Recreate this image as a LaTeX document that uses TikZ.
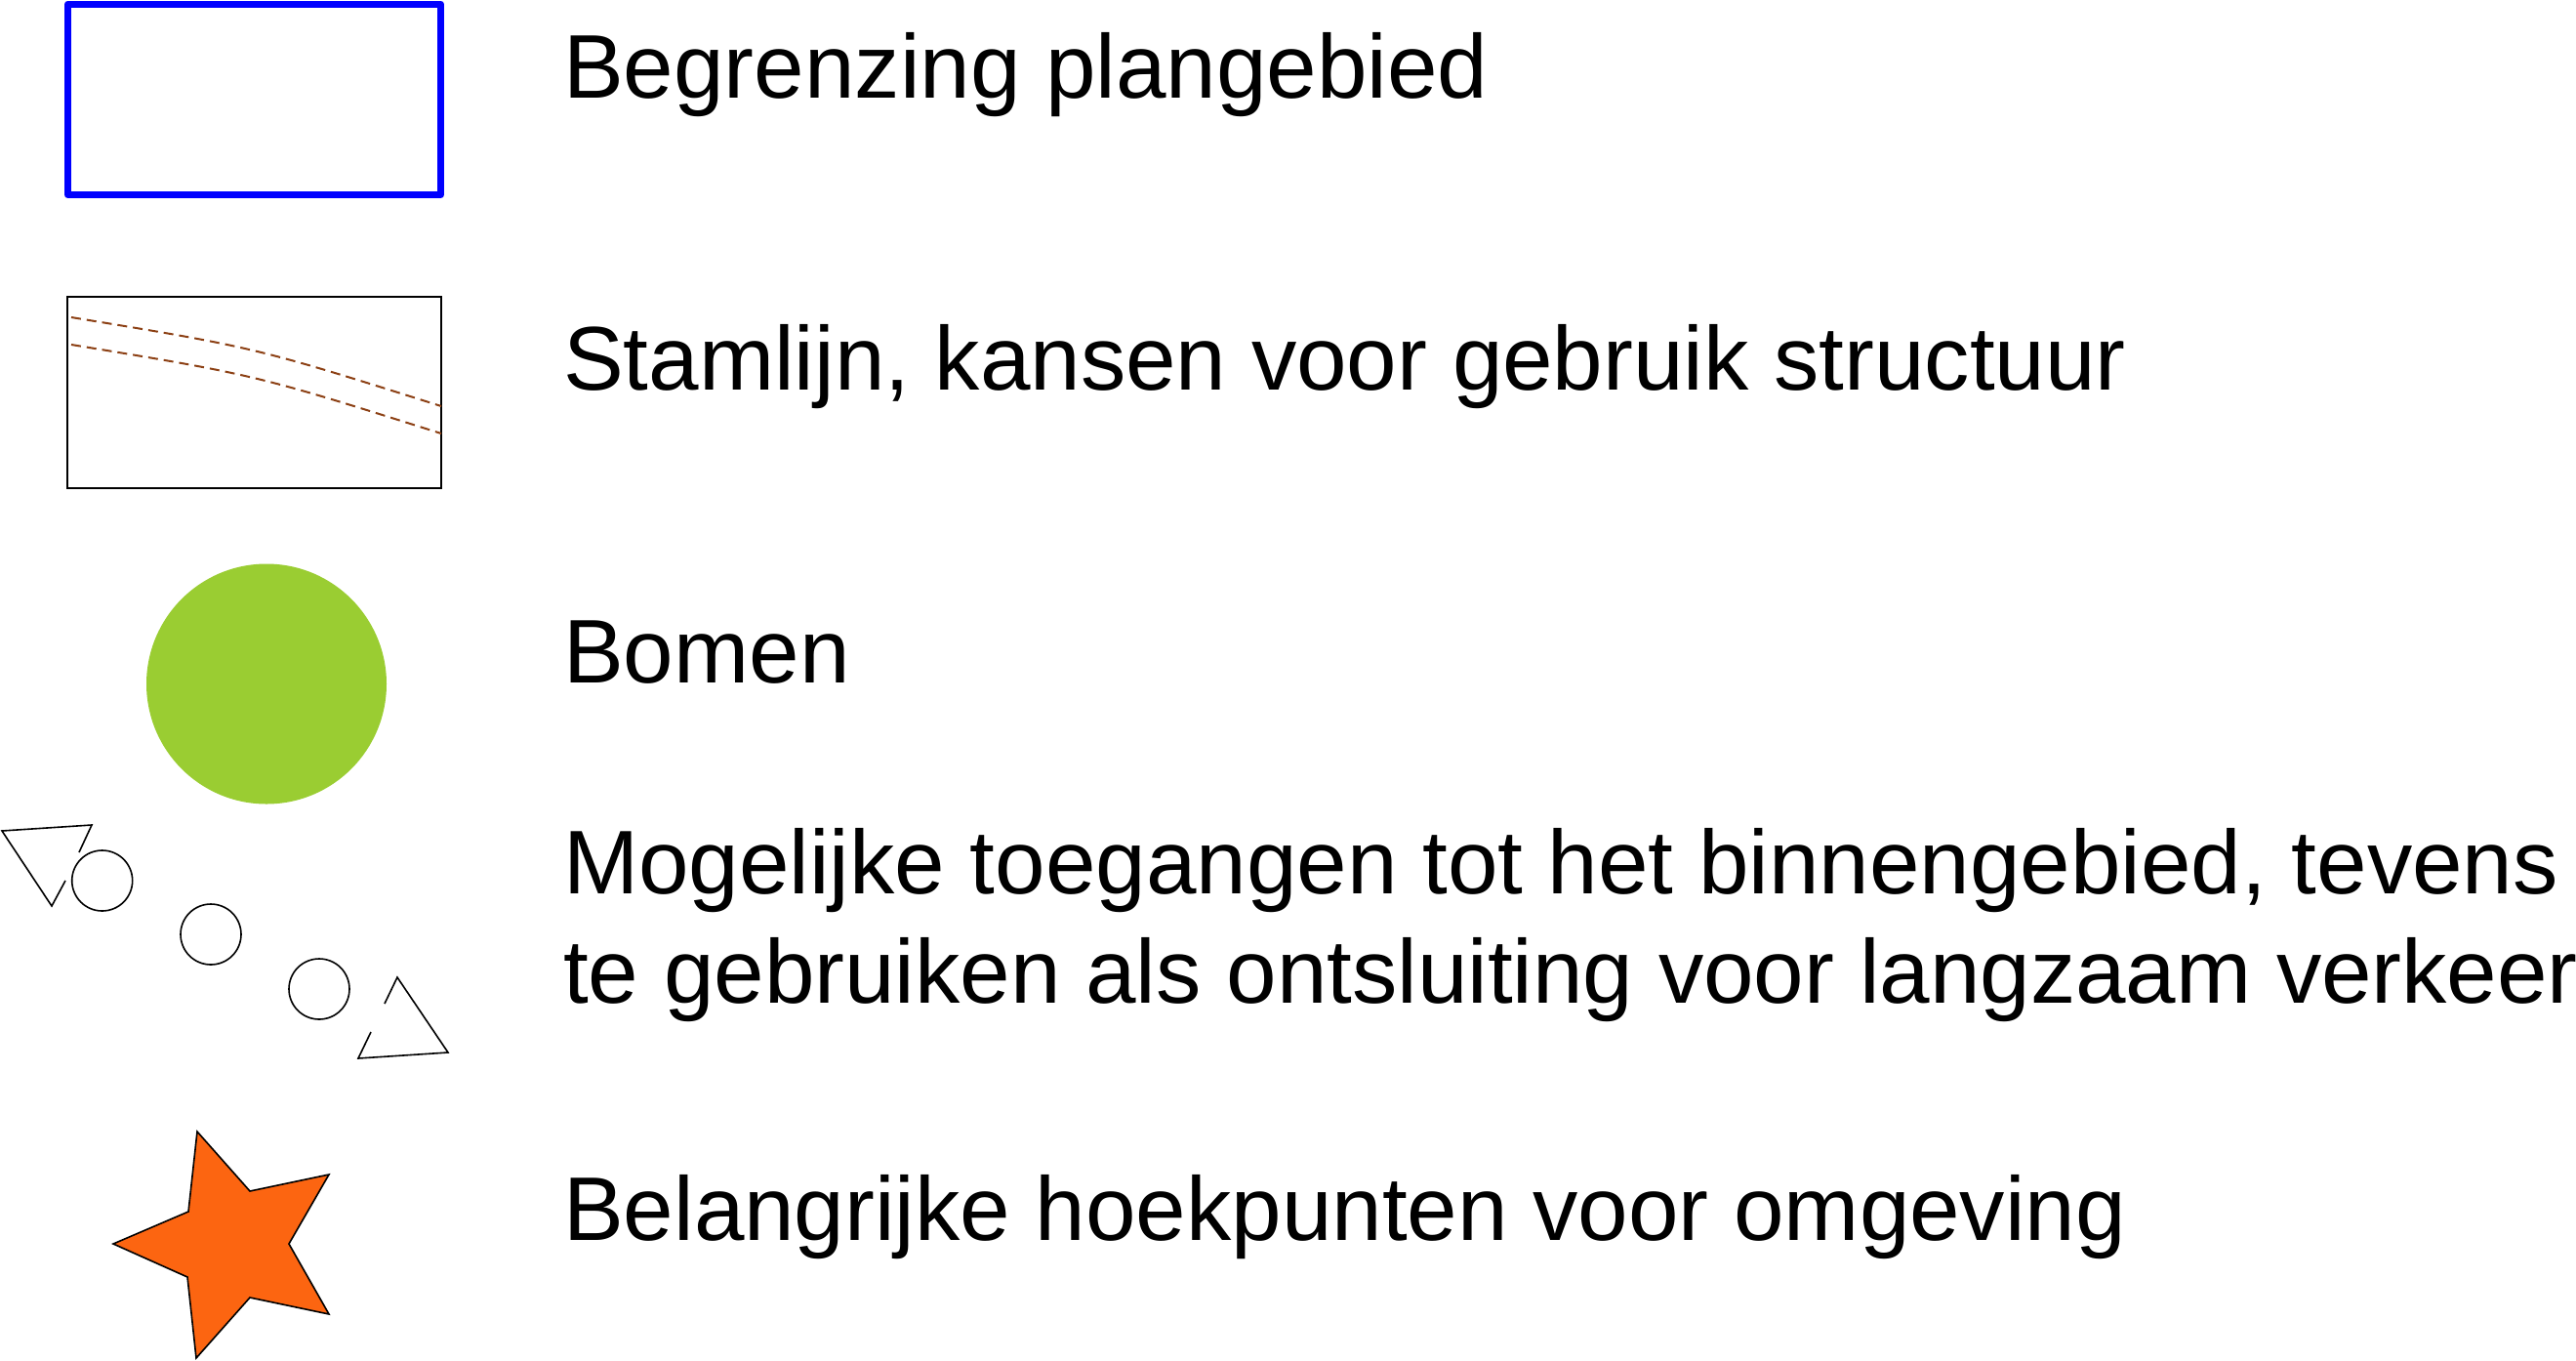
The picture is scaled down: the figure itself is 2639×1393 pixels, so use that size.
\documentclass[tikz,border=0pt]{standalone}
\usepackage{fontspec}
\setmainfont{Liberation Sans}
\definecolor{planblue}{RGB}{0,0,255}
\definecolor{stambrown}{RGB}{140,64,20}
\definecolor{treegreen}{RGB}{154,205,50}
\definecolor{starorange}{RGB}{252,101,17}
\tikzset{
  legendtext/.style={anchor=base west, inner sep=0pt, align=left, font=\fontsize{92.6}{112}\selectfont},
  thinline/.style={draw=black, line width=1.6pt},
  stamline/.style={draw=stambrown, line width=2pt, dash pattern=on 10pt off 6pt},
}
\begin{document}
\begin{tikzpicture}[x=1pt,y=-1pt]
\useasboundingbox (0,0) rectangle (2639,1393);
% 1 Begrenzing plangebied
\draw[planblue, line width=7pt, line join=round] (69.5,4) rectangle (451.5,199.5);
\node[legendtext] (t1) at (577,100) {Begrenzing plangebied};
% 2 Stamlijn
\draw[thinline] (69,304) rectangle (452,500);
\draw[stamline] (73,325) .. controls (262,356) .. (452,416);
\draw[stamline] (73,353) .. controls (262,384) .. (452,444);
\node[legendtext] (t2) at (577,399) {Stamlijn, kansen voor gebruik structuur};
% 3 Bomen
\fill[treegreen] (273,700.5) circle (123);
\node[legendtext] (t3) at (577,699) {Bomen};
% 4 Toegangen
\draw[thinline, line join=miter] (67,902) -- (53,928) -- (2,851) -- (94,845) -- (81,873);
\draw[thinline] (104.7,902) circle (31);
\draw[thinline] (216,957) circle (31);
\draw[thinline] (327,1013) circle (31);
\draw[thinline, line join=miter] (394,1028) -- (407,1001) -- (459,1078) -- (367,1084) -- (380,1057);
\node[legendtext] (t4a) at (577,915) {Mogelijke toegangen tot het binnengebied, tevens};
\node[legendtext] (t4b) at (577,1027) {te gebruiken als ontsluiting voor langzaam verkeer};
% 5 Hoekpunten
\draw[thinline, fill=starorange, line join=miter]
  (202,1159) -- (256,1220) -- (337,1203) -- (296,1274) -- (337,1346) -- (256,1329)
  -- (201,1391) -- (192,1308) -- (116,1274) -- (193,1241) -- cycle;
\node[legendtext] (t5) at (577,1270) {Belangrijke hoekpunten voor omgeving};
\end{tikzpicture}
\end{document}
